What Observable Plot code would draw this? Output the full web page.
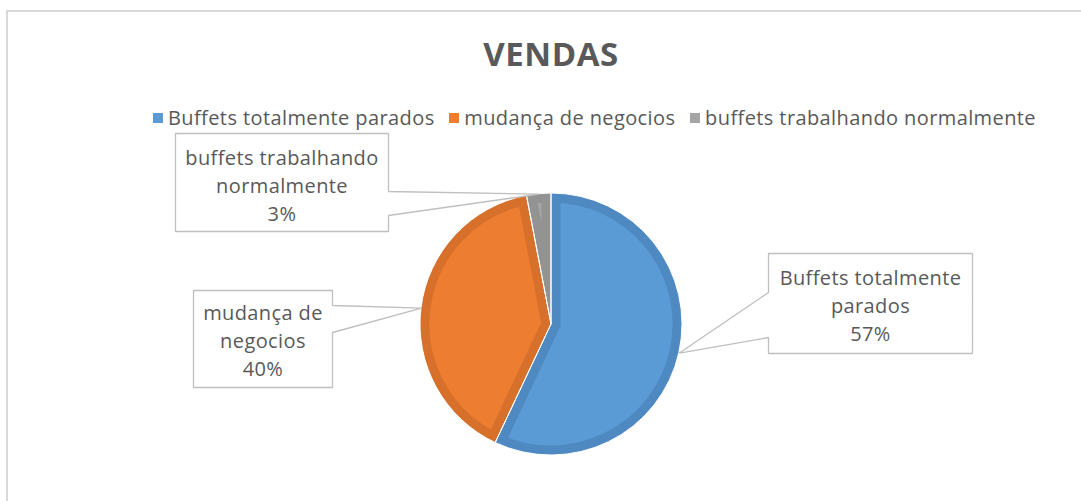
<!DOCTYPE html>
<html>
<head>
<meta charset="utf-8">
<script src="https://cdn.jsdelivr.net/npm/d3@7"></script>
<script src="https://cdn.jsdelivr.net/npm/@observablehq/plot@0.6"></script>
<style>
  html, body { margin: 0; padding: 0; background: #fff; }
  #wrap { position: relative; width: 1081px; height: 501px; overflow: hidden; }
  #frame { position: absolute; left: 6px; top: 10px; width: 1100px; height: 520px; border: 2px solid #d9d9d9; box-sizing: border-box; }
  #header { position: relative; height: 130px; }
  #title { position: absolute; left: 0; width: 1102px; top: 34px; text-align: center; font-family: "Open Sans", sans-serif; font-weight: bold; font-size: 33px; line-height: 40px; letter-spacing: 0.6px; color: #595959; }
  #legend { position: absolute; left: 153px; width: 883px; top: 106px; display: flex; justify-content: space-between; align-items: center; font-family: "Open Sans", sans-serif; font-size: 20px; line-height: 24px; letter-spacing: 0.4px; color: #595959; }
  .item { display: flex; align-items: center; white-space: nowrap; }
  .sw { width: 10px; height: 10px; margin-right: 5px; }
  #chart { position: relative; }
  #chart svg text { letter-spacing: 0.4px; }
</style>
</head>
<body>
<div id="wrap">
  <div id="frame"></div>
  <div id="header">
    <div id="title"></div>
    <div id="legend"></div>
  </div>
  <div id="chart"></div>
</div>
<script>
// ---- data ----
const title = "VENDAS";
const categories = ["Buffets totalmente parados", "mudança de negocios", "buffets trabalhando normalmente"];
const values = [57, 40, 3];
const colors = ["#5b9bd5", "#ed7d31", "#a5a5a5"];
const borderColors = ["#4e89c2", "#d6702b", "#939393"];

// ---- layout (pixels relative to the pie centre) ----
const R = 131;
const callouts = [
  {x1: 217, x2: 421, y1: -71, y2: 29, side: "left", w1: -32, w2: 13, wrap: 18, dy: 1},
  {x1: -358, x2: -219, y1: -34, y2: 63, side: "right", w1: -19, w2: 8, wrap: 11, dy: 0},
  {x1: -376, x2: -163, y1: -191, y2: -93, side: "right", w1: -133, w2: -109, wrap: 19, dy: 2}
];

document.getElementById("title").textContent = title;
const legend = document.getElementById("legend");
categories.forEach((c, i) => {
  const it = document.createElement("div");
  it.className = "item";
  const sw = document.createElement("div");
  sw.className = "sw";
  sw.style.background = colors[i];
  const t = document.createElement("span");
  t.textContent = c;
  it.appendChild(sw); it.appendChild(t);
  legend.appendChild(it);
});

const data = categories.map((c, i) => ({category: c, value: values[i], i}));
const total = d3.sum(values);
const arcs = d3.pie().sort(null).value(d => d.value)(data);

function wrap(text, max) {
  const words = text.split(" ");
  const lines = [];
  let cur = "";
  for (const w of words) {
    if (cur && (cur + " " + w).length > max) { lines.push(cur); cur = w; }
    else cur = cur ? cur + " " + w : w;
  }
  if (cur) lines.push(cur);
  return lines.join("\n");
}

// callout outlines (box + wedge to the slice)
const outline = [];
const labels = [];
arcs.forEach((a, i) => {
  const c = callouts[i];
  const mid = (a.startAngle + a.endAngle) / 2;
  const tx = R * Math.sin(mid), ty = -R * Math.cos(mid);
  let pts;
  if (c.side === "left") {
    pts = [[c.x1, c.y1], [c.x2, c.y1], [c.x2, c.y2], [c.x1, c.y2], [c.x1, c.w2], [tx, ty], [c.x1, c.w1], [c.x1, c.y1]];
  } else {
    pts = [[c.x1, c.y1], [c.x2, c.y1], [c.x2, c.w1], [tx, ty], [c.x2, c.w2], [c.x2, c.y2], [c.x1, c.y2], [c.x1, c.y1]];
  }
  pts.forEach(([x, y]) => outline.push({k: i, x, y}));
  labels.push({
    x: (c.x1 + c.x2) / 2,
    y: (c.y1 + c.y2) / 2 + c.dy,
    label: wrap(a.data.category, c.wrap) + "\n" + Math.round(a.data.value / total * 100) + "%"
  });
});

function pieMark(index, scales) {
  const cx = scales.x(0), cy = scales.y(0), r = scales.x(R) - scales.x(0);
  const g = d3.create("svg:g").attr("transform", `translate(${cx},${cy})`);
  const arc = d3.arc().innerRadius(0).outerRadius(r);
  arcs.forEach((a, i) => {
    const id = "slice-clip-" + i;
    g.append("clipPath").attr("id", id).append("path").attr("d", arc(a));
    g.append("path").attr("d", arc(a))
      .attr("fill", colors[i])
      .attr("stroke", borderColors[i])
      .attr("stroke-width", 19)
      .attr("clip-path", `url(#${id})`);
  });
  arcs.forEach(a => g.append("path").attr("d", arc(a)).attr("fill", "none").attr("stroke", "#fff").attr("stroke-width", 1));
  return g.node();
}

const chart = Plot.plot({
  width: 1081,
  height: 371,
  margin: 0,
  x: {domain: [-551, 530], range: [0, 1081], axis: null},
  y: {domain: [-194, 177], range: [0, 371], axis: null},
  style: {background: "transparent"},
  marks: [
    pieMark,
    Plot.line(outline, {x: "x", y: "y", z: "k", stroke: "#bfbfbf", strokeWidth: 1.3, curve: "linear", strokeLinejoin: "miter"}),
    Plot.text(labels, {x: "x", y: "y", text: "label", fill: "#595959", fontSize: 20, fontFamily: "Open Sans", lineHeight: 1.4, textAnchor: "middle"})
  ]
});
document.getElementById("chart").appendChild(chart);
</script>
</body>
</html>
